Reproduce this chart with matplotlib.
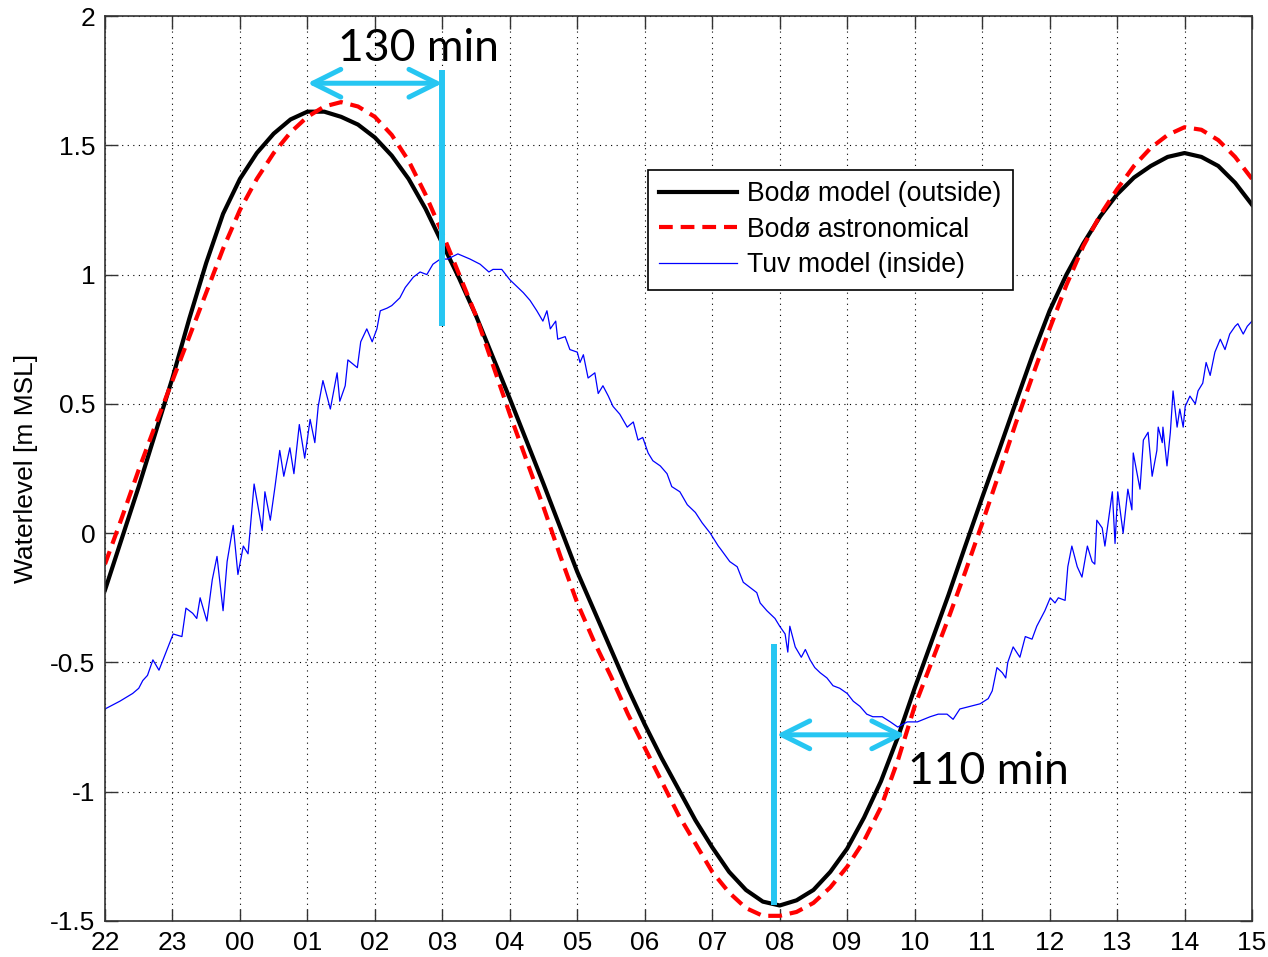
import numpy as np
import matplotlib.pyplot as plt

plt.rcParams['font.family'] = ['Liberation Sans', 'DejaVu Sans']
plt.rcParams['axes.unicode_minus'] = False

# hours counted from 22:00
hour_labels = ['22', '23', '00', '01', '02', '03', '04', '05', '06', '07',
               '08', '09', '10', '11', '12', '13', '14', '15']

# Bodø series, sampled every quarter hour from 22:00
t_bodo = np.arange(0, 17.001, 0.25)
bodo_model = [-0.22, -0.02, 0.18, 0.39, 0.60, 0.83, 1.045, 1.235, 1.37, 1.47,
              1.545, 1.60, 1.63, 1.63, 1.61, 1.58, 1.53, 1.46, 1.37, 1.255,
              1.12, 0.985, 0.84, 0.68, 0.52, 0.355, 0.19, 0.02, -0.15, -0.30,
              -0.45, -0.60, -0.74, -0.87, -0.99, -1.11, -1.215, -1.31, -1.38, -1.425,
              -1.44, -1.42, -1.38, -1.31, -1.22, -1.10, -0.96, -0.79, -0.60, -0.42,
              -0.24, -0.05, 0.137, 0.32, 0.506, 0.69, 0.86, 1.00, 1.12, 1.225,
              1.31, 1.375, 1.42, 1.455, 1.47, 1.455, 1.42, 1.355, 1.27]
bodo_astro = [-0.12, 0.06, 0.245, 0.42, 0.59, 0.76, 0.93, 1.10, 1.25, 1.37,
              1.47, 1.55, 1.61, 1.65, 1.667, 1.65, 1.61, 1.54, 1.44, 1.31,
              1.16, 1.00, 0.84, 0.65, 0.46, 0.28, 0.10, -0.09, -0.27, -0.42,
              -0.555, -0.70, -0.83, -0.96, -1.09, -1.20, -1.31, -1.39, -1.45, -1.48,
              -1.48, -1.465, -1.43, -1.37, -1.29, -1.19, -1.06, -0.88, -0.67, -0.50,
              -0.33, -0.15, 0.037, 0.23, 0.426, 0.61, 0.79, 0.96, 1.11, 1.23,
              1.33, 1.42, 1.49, 1.54, 1.57, 1.56, 1.52, 1.455, 1.37]

# Tuv model, inside
t_tuv = [0.00, 0.22, 0.41, 0.50, 0.56, 0.63, 0.71, 0.80, 0.92, 1.01,
         1.14, 1.20, 1.30, 1.36, 1.41, 1.51, 1.59, 1.66, 1.75, 1.81,
         1.90, 1.97, 2.05, 2.12, 2.21, 2.33, 2.37, 2.45, 2.52, 2.59,
         2.65, 2.74, 2.80, 2.88, 2.96, 3.04, 3.11, 3.16, 3.23, 3.34,
         3.44, 3.48, 3.56, 3.60, 3.74, 3.79, 3.88, 3.96, 4.03, 4.08,
         4.18, 4.25, 4.37, 4.45, 4.57, 4.67, 4.77, 4.86, 4.97, 5.08,
         5.23, 5.41, 5.56, 5.69, 5.75, 5.88, 6.00, 6.12, 6.20, 6.30,
         6.40, 6.49, 6.55, 6.60, 6.68, 6.71, 6.82, 6.89, 7.00, 7.04,
         7.09, 7.16, 7.26, 7.31, 7.38, 7.46, 7.53, 7.63, 7.74, 7.83,
         7.90, 7.97, 8.05, 8.12, 8.23, 8.33, 8.40, 8.52, 8.63, 8.75,
         8.85, 8.97, 9.09, 9.12, 9.26, 9.37, 9.46, 9.56, 9.66, 9.71,
         9.81, 9.93, 10.00, 10.08, 10.12, 10.15, 10.23, 10.32, 10.38, 10.45,
         10.52, 10.60, 10.70, 10.79, 10.89, 11.00, 11.09, 11.19, 11.29, 11.38,
         11.52, 11.64, 11.75, 11.89, 12.04, 12.23, 12.35, 12.48, 12.57, 12.67,
         12.82, 12.97, 13.09, 13.15, 13.22, 13.30, 13.35, 13.38, 13.46, 13.56,
         13.64, 13.74, 13.81, 13.93, 14.01, 14.08, 14.13, 14.23, 14.27, 14.33,
         14.41, 14.48, 14.56, 14.63, 14.67, 14.70, 14.78, 14.82, 14.93, 14.97,
         15.01, 15.09, 15.16, 15.22, 15.24, 15.34, 15.39, 15.46, 15.52, 15.59,
         15.61, 15.67, 15.68, 15.74, 15.79, 15.83, 15.89, 15.93, 15.98, 16.01,
         16.08, 16.16, 16.20, 16.27, 16.32, 16.38, 16.45, 16.53, 16.60, 16.67,
         16.75, 16.79, 16.87, 16.93, 17.00]
z_tuv = [-0.68, -0.65, -0.62, -0.60, -0.57, -0.55, -0.49, -0.53, -0.45, -0.39,
         -0.40, -0.29, -0.31, -0.33, -0.25, -0.34, -0.18, -0.09, -0.30, -0.11,
         0.03, -0.16, -0.05, -0.08, 0.19, 0.01, 0.16, 0.05, 0.18, 0.32,
         0.22, 0.33, 0.23, 0.42, 0.29, 0.44, 0.35, 0.49, 0.59, 0.48,
         0.62, 0.51, 0.57, 0.67, 0.64, 0.74, 0.79, 0.74, 0.79, 0.86,
         0.87, 0.88, 0.91, 0.95, 0.99, 1.01, 1.00, 1.04, 1.06, 1.06,
         1.08, 1.06, 1.04, 1.01, 1.02, 1.02, 0.98, 0.95, 0.93, 0.90,
         0.86, 0.82, 0.86, 0.79, 0.82, 0.75, 0.76, 0.71, 0.70, 0.66,
         0.69, 0.60, 0.62, 0.54, 0.57, 0.53, 0.49, 0.46, 0.41, 0.43,
         0.36, 0.37, 0.31, 0.28, 0.26, 0.23, 0.18, 0.16, 0.11, 0.08,
         0.04, 0.00, -0.05, -0.06, -0.11, -0.13, -0.19, -0.21, -0.23, -0.27,
         -0.30, -0.33, -0.36, -0.39, -0.46, -0.36, -0.44, -0.48, -0.45, -0.49,
         -0.52, -0.54, -0.56, -0.59, -0.60, -0.62, -0.65, -0.67, -0.70, -0.71,
         -0.71, -0.73, -0.75, -0.73, -0.73, -0.71, -0.70, -0.70, -0.72, -0.68,
         -0.67, -0.66, -0.64, -0.61, -0.52, -0.54, -0.56, -0.50, -0.44, -0.48,
         -0.40, -0.41, -0.36, -0.30, -0.25, -0.27, -0.25, -0.26, -0.13, -0.05,
         -0.13, -0.17, -0.05, -0.11, -0.12, 0.05, 0.02, -0.05, 0.16, -0.04,
         0.16, 0.00, 0.17, 0.09, 0.31, 0.17, 0.36, 0.39, 0.22, 0.32,
         0.41, 0.35, 0.41, 0.26, 0.39, 0.55, 0.41, 0.48, 0.41, 0.49,
         0.53, 0.50, 0.55, 0.58, 0.66, 0.61, 0.70, 0.75, 0.71, 0.77,
         0.80, 0.81, 0.77, 0.80, 0.82]

# phase lag markers: arrow (x_start, x_end, y), vertical bar (x, y0, y1), label position
lag_high = dict(label='130 min', arrow=(3.0, 5.0, 1.74), bar=(5.0, 0.80, 1.79), text=(4.64, 1.875))
lag_low = dict(label='110 min', arrow=(9.95, 11.86, -0.78), bar=(9.92, -1.44, -0.43), text=(13.09, -0.92))

cyan = '#26C6F2'

fig = plt.figure(figsize=(12.68, 9.57), dpi=100)
ax = fig.add_axes([105 / 1268, 36 / 957, 1147 / 1268, 905 / 957])

ax.plot(t_bodo, bodo_model, color='k', lw=3, label='Bodø model (outside)')
ax.plot(t_bodo, bodo_astro, color='#ff0000', lw=3, linestyle=(0, (3.3, 1.9)),
        label='Bodø astronomical')
ax.plot(t_tuv, z_tuv, color='#0000ff', lw=0.9, label='Tuv model (inside)')

for lag in (lag_high, lag_low):
    bx, by0, by1 = lag['bar']
    ax.plot([bx, bx], [by0, by1], color=cyan, lw=4.3, solid_capstyle='butt')
    x0, x1, ay = lag['arrow']
    ax.annotate('', xy=(x0, ay), xytext=(x1, ay),
                arrowprops=dict(arrowstyle='<->,head_length=1.0,head_width=0.5',
                                color=cyan, lw=3.6, shrinkA=0, shrinkB=0,
                                mutation_scale=20))
    tx, ty = lag['text']
    ax.text(tx, ty, lag['label'], fontsize=32, family=['Lato', 'DejaVu Sans'],
            ha='center', va='center', color='k')

ax.set_xlim(0, 17)
ax.set_ylim(-1.5, 2)
ax.set_xticks(range(18))
ax.set_xticklabels(hour_labels)
yt = [-1.5, -1, -0.5, 0, 0.5, 1, 1.5, 2]
ax.set_yticks(yt)
ax.set_yticklabels(['-1.5', '-1', '-0.5', '0', '0.5', '1', '1.5', '2'])
ax.tick_params(direction='in', top=True, right=True, length=9, width=1,
               labelsize=19, pad=7, color='#333333')
ax.grid(True, color='k', lw=0.8, linestyle=(0, (1, 4)))
for sp in ax.spines.values():
    sp.set_color('#333333')
    sp.set_linewidth(1.2)
ax.set_ylabel('Waterlevel [m MSL]', fontsize=19, labelpad=9)

leg = ax.legend(loc='upper left', bbox_to_anchor=(0.4734, 0.8298), borderaxespad=0,
                fontsize=19.2, handlelength=2.9, handletextpad=0.4, labelspacing=0.36,
                borderpad=0.42, fancybox=False, framealpha=1, edgecolor='k')
leg.get_frame().set_linewidth(1.2)

fig.savefig('out.png', dpi=100)
